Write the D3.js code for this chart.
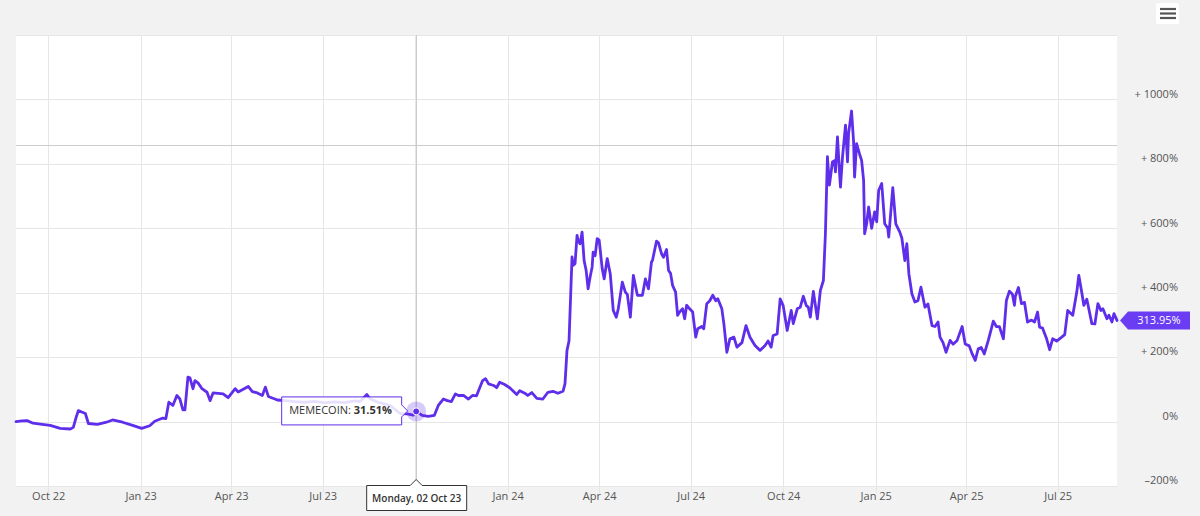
<!DOCTYPE html>
<html><head><meta charset="utf-8">
<script src="https://cdn.jsdelivr.net/npm/d3@7"></script>
<style>
body{margin:0;background:#f2f2f2;}
svg{display:block;font-family:"Open Sans",sans-serif;}
</style>
</head><body>
<svg id="chart" width="1200" height="516"></svg>
<script>
// ---- data ----
const startDate = "2022-08-30";
const endDate = "2025-08-29";
const seriesName = "MEMECOIN";
const dayOffsets = [
  0,6,11,17,26,34,44,54,57,60,
  62,66,69,72,81,90,96,106,116,125,
  133,138,146,149,152,156,160,163,166,168,
  171,173,176,178,181,185,190,193,196,206,
  211,218,221,231,235,240,245,248,251,260,
  270,277,287,297,307,317,327,337,342,349,
  352,360,372,382,389,395,398,404,410,416,
  420,425,429,433,437,440,445,450,454,458,
  460,464,467,470,475,478,481,486,491,498,
  501,506,509,513,518,524,529,534,539,544,
  546,548,550,553,554,556,558,559,561,563,
  565,567,569,571,573,574,576,578,580,583,
  585,588,591,594,597,599,603,606,608,611,
  614,618,623,626,629,632,633,637,639,642,
  644,647,649,651,653,656,658,660,663,665,
  667,670,673,676,678,682,684,687,690,693,
  696,698,702,704,707,710,714,717,722,726,
  730,735,740,745,748,751,753,757,760,763,
  767,771,773,777,780,783,786,788,790,793,
  797,800,803,805,807,809,812,814,815,817,
  819,820,822,825,827,828,831,833,834,836,
  839,841,843,844,846,848,851,854,856,858,
  861,864,867,868,872,875,879,881,884,886,
  888,891,894,897,900,904,907,911,914,917,
  919,922,925,929,932,936,941,944,948,951,
  954,957,960,963,967,972,975,978,982,985,
  988,991,993,994,997,1000,1003,1006,1010,1013,
  1016,1018,1021,1025,1028,1031,1035,1040,1043,1046,
  1051,1055,1057,1060,1062,1065,1070,1073,1076,1079,
  1081,1085,1087,1090,1092,1095
];
const memecoinValues = [
  0,2,3,-5,-9,-12,-21,-23,-18,15,
  34,29,25,-6,-9,-2,5,-2,-12,-21,
  -13,1,11,9,60,50,81,70,36,36,
  138,136,102,127,120,102,91,65,89,86,
  74,102,92,109,93,89,81,107,78,67,
  64,62,60,63,58,61,59,64,62,84,
  71,60,50,25,24,20,31.51,19,16,19,
  50,70,65,62,86,81,81,70,81,80,
  96,127,133,117,112,105,122,115,105,84,
  96,88,81,90,72,70,91,94,88,94,
  117,221,250,511,485,490,578,563,552,588,
  500,470,412,449,480,526,515,568,563,475,
  443,506,459,345,324,350,433,402,395,324,
  454,392,392,443,412,495,500,560,555,521,
  510,534,469,460,423,402,330,340,350,319,
  361,350,340,262,288,295,288,366,375,392,
  375,381,350,304,215,257,262,231,245,298,
  262,236,221,236,250,231,267,272,381,360,
  283,345,304,350,355,389,360,355,324,404,
  319,407,438,583,822,734,806,810,775,884,
  775,728,822,920,806,894,964,870,759,863,
  830,811,749,583,614,666,600,651,620,718,
  739,614,600,573,726,614,588,570,500,552,
  459,397,371,375,417,355,365,298,295,309,
  262,245,215,252,240,252,295,241,235,210,
  190,226,230,210,252,312,295,295,257,376,
  405,395,361,390,416,366,370,309,315,309,
  340,293,290,257,223,257,250,262,270,345,
  330,402,454,400,361,380,304,303,366,345,
  350,319,330,309,335,313.95
];
const yTickValues = [-200, 0, 200, 400, 600, 800, 1000];
const yGridValues = [-200, 0, 200, 400, 600, 800, 1000, 1200];
const yDomain = [-200, 1200];
const hoverDay = 398;
const hoverValue = 31.51;
const hoverDateLabel = "Monday, 02 Oct 23";
const crosshairValue = 860;

// ---- layout ----
const W = 1200, H = 516;
const plot = {left: 16, right: 1117, top: 35, bottom: 486};
const lineColor = "#5f2eea";

const svg = d3.select("#chart");
const parse = d3.timeParse("%Y-%m-%d");
const t0 = parse(startDate), t1 = parse(endDate);
const data = dayOffsets.map((d, i) => ({date: d3.timeDay.offset(t0, d), value: memecoinValues[i]}));
const hoverDate = d3.timeDay.offset(t0, hoverDay);

const x = d3.scaleTime().domain([t0, t1]).range([plot.left, plot.right]);
const y = d3.scaleLinear().domain(yDomain).range([plot.bottom, plot.top]);

svg.append("rect").attr("width", W).attr("height", H).attr("fill", "#f2f2f2");
svg.append("rect").attr("x", plot.left).attr("y", plot.top)
  .attr("width", plot.right - plot.left).attr("height", plot.bottom - plot.top)
  .attr("fill", "#ffffff");

const xTicks = x.ticks(d3.timeMonth.every(3)).filter(d => d >= t0 && d <= t1);

// grid
const grid = svg.append("g");
grid.selectAll("line.v").data(xTicks).join("line")
  .attr("x1", d => Math.round(x(d)) + 0.5).attr("x2", d => Math.round(x(d)) + 0.5)
  .attr("y1", plot.top).attr("y2", plot.bottom + 7)
  .attr("stroke", "#e6e6e6").attr("stroke-width", 1);
grid.selectAll("line.h").data(yGridValues).join("line")
  .attr("x1", plot.left).attr("x2", plot.right)
  .attr("y1", d => Math.round(y(d)) + 0.5).attr("y2", d => Math.round(y(d)) + 0.5)
  .attr("stroke", "#e6e6e6").attr("stroke-width", 1);

// crosshairs
svg.append("line")
  .attr("x1", Math.round(x(hoverDate)) + 0.5).attr("x2", Math.round(x(hoverDate)) + 0.5)
  .attr("y1", plot.top).attr("y2", plot.bottom)
  .attr("stroke", "#cccccc").attr("stroke-width", 1);
svg.append("line")
  .attr("x1", plot.left).attr("x2", plot.right)
  .attr("y1", Math.round(y(crosshairValue)) + 0.5).attr("y2", Math.round(y(crosshairValue)) + 0.5)
  .attr("stroke", "#cccccc").attr("stroke-width", 1);

// x axis labels (the label under the date tooltip is hidden, as in the reference)
const xAxis = d3.axisBottom(x).tickValues(xTicks).tickFormat(d3.timeFormat("%b %y")).tickSize(0).tickPadding(0);
const gx = svg.append("g").attr("transform", `translate(0,${plot.bottom})`).call(xAxis);
gx.select(".domain").remove();
gx.selectAll(".tick").filter(d => Math.abs(x(d) - x(hoverDate)) < 60).remove();
gx.selectAll("text").attr("y", 14).attr("dy", 0)
  .attr("font-family", "Open Sans, sans-serif").attr("font-size", 11).attr("fill", "#555555");

// y axis labels
const fmtY = v => v > 0 ? "+ " + v + "%" : (v === 0 ? "0%" : "\u2013" + Math.abs(v) + "%");
const yAxis = d3.axisRight(y).tickValues(yTickValues).tickFormat(fmtY).tickSize(0).tickPadding(0);
const gy = svg.append("g").attr("transform", `translate(1178,0)`).call(yAxis);
gy.select(".domain").remove();
gy.selectAll("text").attr("text-anchor", "end").attr("x", 0).attr("dy", "-0.2em")
  .attr("font-family", "Open Sans, sans-serif").attr("font-size", 11).attr("fill", "#555555");

// line
const line = d3.line().x(d => x(d.date)).y(d => y(d.value)).curve(d3.curveLinear);
svg.append("path").datum(data)
  .attr("d", line).attr("fill", "none").attr("stroke", lineColor)
  .attr("stroke-width", 2.8).attr("stroke-linejoin", "round").attr("stroke-linecap", "round");

// hover point
const hp = {x: x(hoverDate), y: y(hoverValue)};
svg.append("circle").attr("cx", hp.x).attr("cy", hp.y).attr("r", 10)
  .attr("fill", lineColor).attr("fill-opacity", 0.25);
svg.append("circle").attr("cx", hp.x).attr("cy", hp.y).attr("r", 3.5)
  .attr("fill", lineColor).attr("stroke", "#ffffff").attr("stroke-width", 1);

// series tooltip
const tipW = 120, tipH = 28;
const tipX = hp.x - 135, tipY = hp.y - 15;
const tg = svg.append("g");
tg.append("path")
  .attr("d", `M${tipX + 0.5},${tipY + 0.5} h${tipW} v${tipH / 2 - 6} l6,6 l-6,6 V${tipY + tipH + 0.5} h${-tipW} Z`)
  .attr("fill", "#ffffff").attr("fill-opacity", 0.85)
  .attr("stroke", lineColor).attr("stroke-width", 1);
const tt = tg.append("text").attr("x", tipX + 8).attr("y", tipY + 18)
  .attr("font-size", 11).attr("fill", "#333333");
tt.append("tspan").text(seriesName + ": ");
tt.append("tspan").attr("font-weight", "bold").text(d3.format(".2f")(hoverValue) + "%");

// date tooltip on x axis
const dW = 100, dH = 25, dX = hp.x - 49.5, dY = plot.bottom - 0.5;
svg.append("path")
  .attr("d", `M${dX},${dY} H${hp.x - 6} l6,-6 l6,6 H${dX + dW} v${dH} H${dX} Z`)
  .attr("fill", "#ffffff").attr("stroke", "#333333").attr("stroke-width", 1);
svg.append("text").attr("x", dX + dW / 2).attr("y", dY + 16.5).attr("text-anchor", "middle")
  .attr("font-size", 10).attr("font-weight", 600).attr("fill", "#333333").text(hoverDateLabel);

// last value label
const last = data[data.length - 1];
const ly = y(last.value);
svg.append("path")
  .attr("d", `M1120,${ly} L1128,${ly - 9} H1190 V${ly + 9} H1128 Z`)
  .attr("fill", "#6a3cf2");
svg.append("text").attr("x", 1159).attr("y", ly + 4).attr("text-anchor", "middle")
  .attr("font-size", 11).attr("fill", "#ffffff").text(d3.format(".2f")(last.value) + "%");

// menu button
const mg = svg.append("g");
mg.append("rect").attr("x", 1156).attr("y", 3).attr("width", 23).attr("height", 21).attr("fill", "#ffffff").attr("rx", 2);
[9, 13.5, 18].forEach(yy => {
  mg.append("line").attr("x1", 1160).attr("x2", 1176).attr("y1", yy).attr("y2", yy)
    .attr("stroke", "#555555").attr("stroke-width", 2.2);
});
</script>
</body></html>
